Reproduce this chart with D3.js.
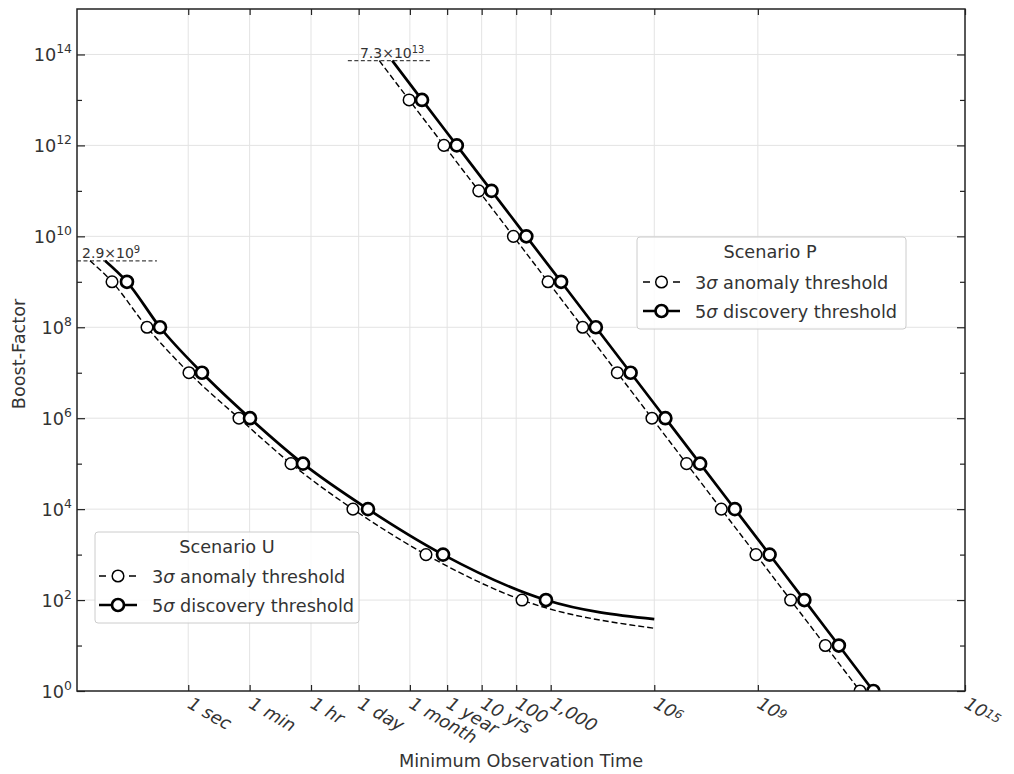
<!DOCTYPE html>
<html><head><meta charset="utf-8">
<script src="https://cdn.jsdelivr.net/npm/d3@7"></script>
<style>
body{margin:0;background:#fff}
text{font-family:"DejaVu Sans",sans-serif;fill:#333}
</style>
</head><body>
<svg id="chart" width="1014" height="774"></svg>
<script>
// ---- data: minimum observation time (seconds) vs. boost factor ----
const uAnomalyTime    = [1.43e-3, 6.2e-3, 0.064, 1.05, 29.5, 948, 5.9e4, 7.7e6, 4.66e9, 3.16e13];
const uAnomalyBoost   = [2.9e9, 1e9, 1e8, 1e7, 1e6, 1e5, 1e4, 1e3, 1e2, 24];
const uDiscoveryTime  = [3.9e-3, 0.0168, 0.152, 2.5, 61.5, 2110, 1.61e5, 2.4e7, 2.3e10, 3.16e13];
const uDiscoveryBoost = [2.9e9, 1e9, 1e8, 1e7, 1e6, 1e5, 1e4, 1e3, 1e2, 38];

const pAnomalyTime    = [3.42e5, 2.50e6, 2.55e7, 2.60e8, 2.62e9, 2.64e10, 2.66e11, 2.68e12, 2.70e13, 2.72e14, 2.75e15, 2.78e16, 2.81e17, 2.84e18, 2.87e19];
const pDiscoveryTime  = [8.1e5, 5.9e6, 6.0e7, 6.1e8, 6.2e9, 6.3e10, 6.4e11, 6.5e12, 6.6e13, 6.7e14, 6.8e15, 6.9e16, 7.0e17, 7.0e18, 7.0e19];
const pBoost          = [7.3e13, 1e13, 1e12, 1e11, 1e10, 1e9, 1e8, 1e7, 1e6, 1e5, 1e4, 1e3, 1e2, 1e1, 1e0];

// x ticks (seconds) and their labels
const xTickValues = [1, 60, 3600, 86400, 2.63e6, 3.156e7, 3.156e8, 3.156e9, 3.156e10, 3.156e13, 3.156e16, 3.156e22];
const xTickLabels = ["1 sec", "1 min", "1 hr", "1 day", "1 month", "1 year", "10 yrs", "100", "1,000", "10^6", "10^9", "10^15"];
// y ticks
const yMajorTicks = [1e0, 1e2, 1e4, 1e6, 1e8, 1e10, 1e12, 1e14];
const yMinorTicks = [1e1, 1e3, 1e5, 1e7, 1e9, 1e11, 1e13];

// starting-level annotations
const peakLabels     = ["2.9×10^9", "7.3×10^13"];
const peakValues     = [2.9e9, 7.3e13];
const peakSpanStart  = [6e-4, 4.2e4];
const peakSpanEnd    = [0.124, 1.0e7];
const peakLabelTime  = [8.4e-4, 9.4e4];

// ---- layout ----
const W = 1014, H = 774;
const L = 77, R = 965, T = 9, B = 691;
const FS = 17.7;
const svg = d3.select("#chart");
svg.append("rect").attr("width", W).attr("height", H).attr("fill", "#fff");

const x = d3.scaleLog().domain([6e-4, 3.156e22]).range([L, R]);
const y = d3.scaleLog().domain([1, 1e15]).range([B, T]);

// helper: text "base^exp" with a superscript
function supText(sel, str, supSize, raise) {
  const parts = str.split("^");
  sel.text(null);
  sel.append("tspan").text(parts[0]);
  if (parts.length > 1) {
    sel.append("tspan").attr("dy", -raise).attr("font-size", supSize).text(parts[1]);
  }
}

// grid
const grid = svg.append("g");
grid.selectAll("line.gx").data(xTickValues.slice(0, -1)).join("line")
  .attr("x1", d => x(d)).attr("x2", d => x(d)).attr("y1", T).attr("y2", B)
  .attr("stroke", "#e3e3e3").attr("stroke-width", 1);
grid.selectAll("line.gy").data(yMajorTicks.slice(1)).join("line")
  .attr("y1", d => y(d)).attr("y2", d => y(d)).attr("x1", L).attr("x2", R)
  .attr("stroke", "#e3e3e3").attr("stroke-width", 1);

// axes with inward ticks
const axB = svg.append("g").attr("transform", `translate(0,${B})`)
  .call(d3.axisBottom(x).tickValues(xTickValues).tickSizeInner(-6).tickSizeOuter(0).tickFormat(""));
const axT = svg.append("g").attr("transform", `translate(0,${T})`)
  .call(d3.axisTop(x).tickValues(xTickValues).tickSizeInner(-6).tickSizeOuter(0).tickFormat(""));
const axL = svg.append("g").attr("transform", `translate(${L},0)`)
  .call(d3.axisLeft(y).tickValues(yMajorTicks).tickSizeInner(-8).tickSizeOuter(0).tickFormat(""));
const axLm = svg.append("g").attr("transform", `translate(${L},0)`)
  .call(d3.axisLeft(y).tickValues(yMinorTicks).tickSizeInner(-5).tickSizeOuter(0).tickFormat(""));
const axR = svg.append("g").attr("transform", `translate(${R},0)`)
  .call(d3.axisRight(y).tickValues(yMajorTicks).tickSizeInner(-8).tickSizeOuter(0).tickFormat(""));
const axRm = svg.append("g").attr("transform", `translate(${R},0)`)
  .call(d3.axisRight(y).tickValues(yMinorTicks).tickSizeInner(-5).tickSizeOuter(0).tickFormat(""));
[axB, axT, axL, axLm, axR, axRm].forEach(g => {
  g.select(".domain").remove();
  g.selectAll(".tick line").attr("stroke", "#222").attr("stroke-width", 1.2);
});

// x tick labels, rotated
svg.append("g").selectAll("text").data(xTickValues).join("text")
  .attr("transform", d => `translate(${x(d)},${B + 1}) rotate(30)`)
  .attr("x", 6).attr("y", 14)
  .attr("font-size", FS).attr("font-style", "italic")
  .each(function(d, i) { supText(d3.select(this), xTickLabels[i], 12.4, 3); });

// y tick labels
svg.append("g").selectAll("text").data(yMajorTicks).join("text")
  .attr("x", L - 5).attr("y", d => y(d) + 6.5)
  .attr("text-anchor", "end").attr("font-size", FS)
  .each(function(d) { supText(d3.select(this), "10^" + Math.round(Math.log10(d)), 12.4, 7.5); });

// axis titles
svg.append("text").attr("x", (L + R) / 2).attr("y", 767).attr("text-anchor", "middle")
  .attr("font-size", FS).text("Minimum Observation Time");
svg.append("text").attr("transform", `translate(25,${(T + B) / 2 + 4}) rotate(-90)`)
  .attr("text-anchor", "middle").attr("font-size", FS).text("Boost-Factor");

// plot clip
svg.append("clipPath").attr("id", "plotClip").append("rect")
  .attr("x", L).attr("y", T).attr("width", R - L).attr("height", B - T);
const plot = svg.append("g").attr("clip-path", "url(#plotClip)");

// starting-level reference lines and labels
peakValues.forEach((v, i) => {
  plot.append("line")
    .attr("x1", x(peakSpanStart[i])).attr("x2", x(peakSpanEnd[i]))
    .attr("y1", y(v)).attr("y2", y(v))
    .attr("stroke", "#444").attr("stroke-width", 1.3).attr("stroke-dasharray", "4,2.5");
  const t = svg.append("text").attr("x", x(peakLabelTime[i])).attr("y", y(v) - 3)
    .attr("font-size", 14).attr("fill", "#333");
  supText(t, peakLabels[i], 10, 5);
});

// series
const anomalyStyle   = { width: 1.4, dash: "6,3", r: 5.8, mw: 1.5 };
const discoveryStyle = { width: 2.7, dash: null, r: 6, mw: 2.7 };
const series = [
  { t: uAnomalyTime,   b: uAnomalyBoost,   s: anomalyStyle },
  { t: uDiscoveryTime, b: uDiscoveryBoost, s: discoveryStyle },
  { t: pAnomalyTime,   b: pBoost,          s: anomalyStyle },
  { t: pDiscoveryTime, b: pBoost,          s: discoveryStyle }
];
const line = d3.line().x(d => x(d[0])).y(d => y(d[1])).curve(d3.curveMonotoneX);
series.forEach(sr => {
  const pts = sr.t.map((t, i) => [t, sr.b[i]]);
  plot.append("path").attr("d", line(pts)).attr("fill", "none")
    .attr("stroke", "#000").attr("stroke-width", sr.s.width)
    .attr("stroke-dasharray", sr.s.dash);
  const marks = pts.filter(p => Math.abs(Math.log10(p[1]) - Math.round(Math.log10(p[1]))) < 1e-9);
  plot.selectAll(null).data(marks).join("circle")
    .attr("cx", d => x(d[0])).attr("cy", d => y(d[1])).attr("r", sr.s.r)
    .attr("fill", "#fff").attr("stroke", "#000").attr("stroke-width", sr.s.mw);
});

// frame
svg.append("rect").attr("x", L).attr("y", T).attr("width", R - L).attr("height", B - T)
  .attr("fill", "none").attr("stroke", "#222").attr("stroke-width", 1.5);

// legends
function legend(x0, y0, w, h, title, titleX, titleY, rowY, hx0, hx1, tx) {
  const g = svg.append("g");
  g.append("rect").attr("x", x0).attr("y", y0).attr("width", w).attr("height", h)
    .attr("rx", 3).attr("fill", "#fff").attr("fill-opacity", 0.85)
    .attr("stroke", "#ccc").attr("stroke-width", 1);
  g.append("text").attr("x", titleX).attr("y", titleY).attr("text-anchor", "middle")
    .attr("font-size", FS).text(title);
  const rows = [
    { s: anomalyStyle, n: "3", label: " anomaly threshold", dash: "7,23" },
    { s: discoveryStyle, n: "5", label: " discovery threshold", dash: null }
  ];
  rows.forEach((r, i) => {
    const yy = rowY[i];
    g.append("line").attr("x1", hx0).attr("x2", hx1).attr("y1", yy).attr("y2", yy)
      .attr("stroke", "#000").attr("stroke-width", r.s.width).attr("stroke-dasharray", r.dash);
    g.append("circle").attr("cx", (hx0 + hx1) / 2).attr("cy", yy).attr("r", r.s.r)
      .attr("fill", "#fff").attr("stroke", "#000").attr("stroke-width", r.s.mw);
    const t = g.append("text").attr("x", tx).attr("y", yy + 6.5).attr("font-size", FS);
    t.append("tspan").text(r.n);
    t.append("tspan").attr("font-style", "italic").text("σ");
    t.append("tspan").text(r.label);
  });
}
legend(637, 237, 269, 92, "Scenario P", 770, 258, [282, 311], 643, 680, 695);
legend(95, 532, 264, 91, "Scenario U", 227, 553, [576, 605], 99, 137, 152);
</script>
</body></html>
